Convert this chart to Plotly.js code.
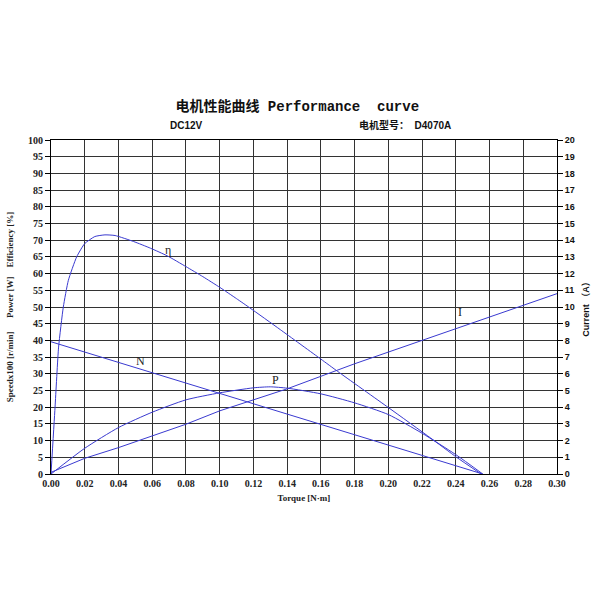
<!DOCTYPE html>
<html>
<head>
<meta charset="utf-8">
<script src="https://cdn.plot.ly/plotly-3.0.1.min.js"></script>
<style>html,body{margin:0;padding:0;background:#fff;}#chart{width:600px;height:600px;}</style>
</head>
<body>
<div id="chart"></div>
<script>
// Torque values (N·m) for speed, power, current
const torque = [0, 0.02, 0.04, 0.06, 0.08, 0.10, 0.12, 0.13, 0.14, 0.16, 0.18, 0.20, 0.22, 0.24, 0.256];
const speed  = [39.6, 36.5, 33.4, 30.3, 27.2, 24.1, 21.0, 19.5, 17.9, 14.8, 11.8, 8.7, 5.5, 2.5, 0];
const power  = [0, 7.7, 13.9, 18.5, 22.2, 24.3, 25.8, 26.1, 25.7, 24.0, 21.3, 17.8, 12.2, 5.8, 0];

const torqueI = [0, 0.02, 0.04, 0.06, 0.08, 0.10, 0.12, 0.14, 0.16, 0.18, 0.20, 0.22, 0.24, 0.26, 0.28, 0.30];
const current = [0.1, 0.94, 1.58, 2.3, 2.98, 3.78, 4.45, 5.1, 5.85, 6.6, 7.3, 8.0, 8.74, 9.4, 10.1, 10.8];

const torqueE = [0, 0.0024, 0.0045, 0.0073, 0.0103, 0.0152, 0.020, 0.026, 0.032, 0.038, 0.049, 0.059, 0.069, 0.080, 0.090, 0.100, 0.110, 0.118, 0.136, 0.160, 0.170, 0.200, 0.225, 0.2405, 0.255];
const efficiency = [0, 20, 38, 50, 58, 65, 69, 71.1, 71.6, 71.4, 69.6, 67.6, 65.3, 62.1, 59.1, 55.9, 52.5, 49.7, 43.2, 34.4, 30.7, 19.9, 10.8, 5.0, 0];

const xTicks = [0, 0.02, 0.04, 0.06, 0.08, 0.10, 0.12, 0.14, 0.16, 0.18, 0.20, 0.22, 0.24, 0.26, 0.28, 0.30];

const lineColor = '#3a3ad0';
const serif = 'Liberation Serif, Times New Roman, serif';
const sans = 'Liberation Sans, Arial, sans-serif';

const traces = [
  {x: torque, y: speed, mode: 'lines', line: {color: lineColor, width: 1}, name: 'N'},
  {x: torque, y: power, mode: 'lines', line: {color: lineColor, width: 1, shape: 'spline', smoothing: 0.6}, name: 'P'},
  {x: torqueE, y: efficiency, mode: 'lines', line: {color: lineColor, width: 1, shape: 'spline', smoothing: 0.5}, name: 'η'},
  {x: torqueI, y: current, mode: 'lines', line: {color: lineColor, width: 1}, yaxis: 'y2', name: 'I'}
];

const layout = {
  width: 600, height: 600,
  margin: {l: 51, r: 43, t: 140, b: 126},
  paper_bgcolor: '#fff', plot_bgcolor: '#fff',
  showlegend: false,
  xaxis: {
    range: [0, 0.30], tickvals: xTicks, tickformat: '.2f',
    showgrid: true, gridcolor: '#333', gridwidth: 1,
    showline: true, linecolor: '#000', linewidth: 1, mirror: true,
    ticks: '', zeroline: false,
    tickfont: {family: serif, size: 10, color: '#222', weight: 'bold'},
    title: {text: 'Torque [N·m]', font: {family: serif, size: 9, color: '#222', weight: 'bold'}, standoff: 6}
  },
  yaxis: {
    range: [0, 100], dtick: 5, tick0: 0,
    showgrid: true, gridcolor: '#333', gridwidth: 1,
    showline: true, linecolor: '#000', linewidth: 1, mirror: true,
    ticks: 'outside', ticklen: 5, tickcolor: '#000', zeroline: false,
    tickfont: {family: serif, size: 10, color: '#222', weight: 'bold'},
    title: {text: 'Speedx100 [r/min]      Power [W]    Efficiency [%]', font: {family: serif, size: 9, color: '#222', weight: 'bold'}, standoff: 12}
  },
  yaxis2: {
    range: [0, 20], dtick: 1, tick0: 0, overlaying: 'y', side: 'right',
    showgrid: false, zeroline: false, showline: false,
    ticks: 'outside', ticklen: 5, tickcolor: '#000',
    tickfont: {family: sans, size: 9, color: '#111', weight: 'bold'},
    title: {text: 'Current （A）', font: {family: sans + ', Noto Sans CJK SC', size: 9, color: '#111', weight: 'bold'}, standoff: 8}
  },
  title: {
    text: '电机性能曲线 Performance  curve',
    font: {family: 'Liberation Mono, Noto Sans CJK SC', size: 14, color: '#111', weight: 'bold'},
    x: 292/600, xanchor: 'center', xref: 'paper', y: 1 - 106/600, yanchor: 'middle', yref: 'container'
  },
  annotations: [
    {text: 'DC12V', xref: 'paper', yref: 'paper', x: (168-51)/506, y: (474-125)/334, xanchor: 'left', yanchor: 'middle', showarrow: false, font: {family: sans, size: 10, color: '#111', weight: 'bold'}},
    {text: '电机型号：  D4070A', xref: 'paper', yref: 'paper', x: (357-51)/506, y: (474-125)/334, xanchor: 'left', yanchor: 'middle', showarrow: false, font: {family: 'Liberation Sans, Noto Sans CJK SC', size: 10, color: '#111', weight: 'bold'}},
    {text: 'η', x: 0.0694, y: 67.0, xref: 'x', yref: 'y', showarrow: false, font: {family: serif, size: 12, color: '#222'}},
    {text: 'N', x: 0.053, y: 33.8, xref: 'x', yref: 'y', showarrow: false, font: {family: serif, size: 12, color: '#222'}},
    {text: 'P', x: 0.133, y: 28.2, xref: 'x', yref: 'y', showarrow: false, font: {family: serif, size: 12, color: '#222'}},
    {text: 'I', x: 0.2425, y: 48.5, xref: 'x', yref: 'y', showarrow: false, font: {family: serif, size: 12, color: '#222'}}
  ]
};

Plotly.newPlot('chart', traces, layout, {displayModeBar: false, staticPlot: true});
</script>
</body>
</html>
